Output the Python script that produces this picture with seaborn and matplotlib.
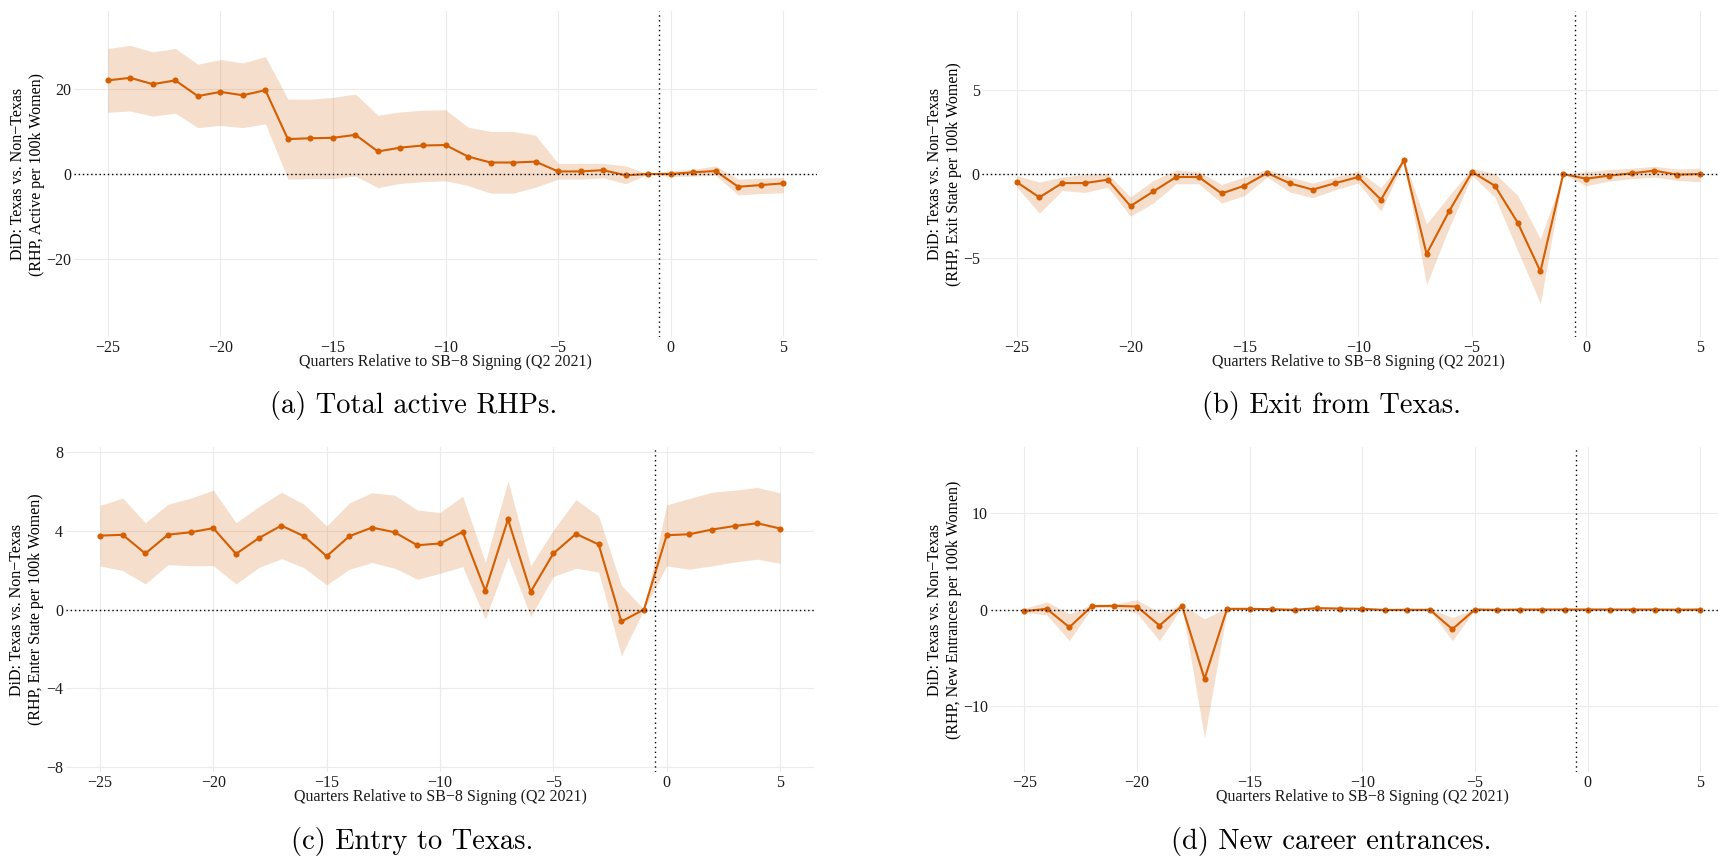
import matplotlib
matplotlib.use("Agg")
import matplotlib.pyplot as plt
import pandas as pd
import seaborn as sns

# ---------------- data ----------------
quarters = list(range(-25, 6))
xticks = [-25, -20, -15, -10, -5, 0, 5]

active_est = [22.0, 22.6, 21.1, 22.0, 18.3, 19.3, 18.5, 19.7, 8.2, 8.4, 8.5, 9.2, 5.3, 6.2, 6.7, 6.8,
              4.1, 2.7, 2.7, 2.9, 0.6, 0.6, 0.9, -0.3, 0.0, 0.0, 0.4, 0.7, -3.0, -2.6, -2.2]
active_hi = [29.5, 30.2, 28.7, 29.5, 25.8, 26.9, 26.1, 27.6, 17.6, 17.6, 18.0, 18.8, 13.8, 14.6, 15.0, 15.1,
             11.0, 10.0, 10.0, 9.1, 2.5, 2.5, 2.5, 1.9, 0.0, 0.8, 1.1, 1.9, -1.2, -1.0, -0.8]
active_lo = [14.5, 14.8, 13.6, 14.3, 10.9, 11.4, 10.9, 11.8, -1.2, -1.1, -1.1, -0.5, -3.2, -2.2, -1.8, -1.6,
             -2.7, -4.5, -4.5, -3.1, -1.2, -1.2, -0.9, -2.3, 0.0, -0.6, -0.5, -0.3, -4.9, -4.6, -4.4]

exit_est = [-0.48, -1.39, -0.54, -0.54, -0.34, -1.91, -1.04, -0.18, -0.18, -1.16, -0.70, 0.06, -0.56, -0.93,
            -0.54, -0.18, -1.53, 0.82, -4.76, -2.19, 0.12, -0.70, -2.89, -5.80, 0.0, -0.28, -0.10, 0.04,
            0.20, -0.04, 0.0]
exit_hi = [-0.10, -0.48, -0.18, -0.02, 0.02, -1.37, -0.38, 0.22, 0.14, -0.62, -0.18, 0.28, -0.18, -0.54,
           -0.18, 0.18, -0.82, 0.90, -2.97, -1.27, 0.34, 0.02, -1.27, -3.86, 0.0, 0.14, 0.26, 0.34, 0.46,
           0.30, 0.34]
exit_lo = [-0.78, -2.33, -0.98, -1.10, -0.78, -2.51, -1.73, -0.58, -0.58, -1.73, -1.29, -0.18, -1.08, -1.41,
           -0.94, -0.54, -2.21, 0.74, -6.59, -3.17, -0.10, -1.37, -4.56, -7.71, 0.0, -0.70, -0.42, -0.28,
           -0.18, -0.38, -0.46]

entry_est = [3.76, 3.80, 2.85, 3.81, 3.93, 4.14, 2.83, 3.63, 4.27, 3.73, 2.71, 3.73, 4.17, 3.93, 3.27, 3.36,
             3.95, 0.95, 4.59, 0.90, 2.85, 3.85, 3.31, -0.61, 0.0, 3.78, 3.83, 4.07, 4.25, 4.39, 4.12]
entry_hi = [5.30, 5.67, 4.42, 5.36, 5.67, 6.07, 4.42, 5.23, 5.97, 5.36, 4.25, 5.43, 5.94, 5.82, 5.06, 4.94,
            5.77, 2.42, 6.55, 2.22, 4.04, 5.60, 4.75, 1.24, 0.0, 5.33, 5.65, 5.97, 6.07, 6.21, 5.94]
entry_lo = [2.22, 1.98, 1.30, 2.28, 2.23, 2.23, 1.30, 2.13, 2.59, 2.13, 1.25, 2.05, 2.39, 2.10, 1.54, 1.84,
            2.18, -0.49, 2.66, -0.36, 1.68, 2.10, 1.90, -2.35, 0.0, 2.22, 2.05, 2.22, 2.42, 2.56, 2.35]

new_est = [-0.17, 0.07, -1.85, 0.35, 0.38, 0.31, -1.67, 0.38, -7.21, 0.07, 0.07, 0.03, -0.03, 0.14, 0.10,
           0.07, -0.05, -0.03, -0.03, -2.05, 0.0, -0.03, 0.0, 0.0, 0.0, 0.0, 0.0, 0.0, 0.0, -0.02, 0.0]
new_hi = [0.10, 0.80, -0.45, 0.52, 0.56, 1.01, -0.31, 0.50, -0.98, 0.20, 0.15, 0.12, 0.06, 0.25, 0.20, 0.15,
          0.05, 0.05, 0.05, -0.83, 0.05, 0.05, 0.05, 0.05, 0.0, 0.08, 0.08, 0.08, 0.08, 0.08, 0.08]
new_lo = [-0.31, -0.56, -3.24, 0.17, 0.20, -0.38, -3.24, 0.26, -13.34, -0.05, -0.02, -0.06, -0.12, 0.03,
          0.0, -0.02, -0.15, -0.12, -0.12, -3.23, -0.05, -0.10, -0.05, -0.05, 0.0, -0.08, -0.08, -0.08,
          -0.08, -0.10, -0.08]

ylabels = [
    "DiD: Texas vs. Non\u2212Texas\n(RHP, Active per 100k Women)",
    "DiD: Texas vs. Non\u2212Texas\n(RHP, Exit State per 100k Women)",
    "DiD: Texas vs. Non\u2212Texas\n(RHP, Enter State per 100k Women)",
    "DiD: Texas vs. Non\u2212Texas\n(RHP, New Entrances per 100k Women)",
]
xlabel = "Quarters Relative to SB\u22128 Signing (Q2 2021)"
captions = ["(a) Total active RHPs.", "(b) Exit from Texas.",
            "(c) Entry to Texas.", "(d) New career entrances."]
yticks_list = [[-20, 0, 20], [-5, 0, 5], [-8, -4, 0, 4, 8], [-10, 0, 10]]

series = [(active_est, active_lo, active_hi), (exit_est, exit_lo, exit_hi),
          (entry_est, entry_lo, entry_hi), (new_est, new_lo, new_hi)]

# ---------------- layout (pixels) ----------------
W, H = 1718, 856
boxes = [(74, 11, 817, 337), (982.5, 11, 1734, 337), (66, 447, 814, 772), (990.5, 447, 1734, 772)]
ylims = [38.3, 9.7, 8.27, 16.9]
ylab_x = [28, 944, 27, 945]
cap_x = [414, 1332, 412, 1331]
cap_y = [406, 406, 841, 841]
xlab_y = [362, 362, 797, 797]

ORANGE = "#D55E00"

sns.set_theme(style="white")
plt.rcParams["font.family"] = ["Liberation Serif", "DejaVu Serif"]
plt.rcParams["axes.unicode_minus"] = True

fig = plt.figure(figsize=(W / 100, H / 100), dpi=100)
fig.patch.set_facecolor("white")

for i, (est, lo, hi) in enumerate(series):
    l, t, r, b = boxes[i]
    ax = fig.add_axes([l / W, 1 - b / H, (r - l) / W, (b - t) / H])
    ax.set_facecolor("white")
    ax.fill_between(quarters, lo, hi, color=ORANGE, alpha=0.2, linewidth=0, zorder=1)
    df = pd.DataFrame({"q": quarters, "est": est})
    sns.lineplot(data=df, x="q", y="est", ax=ax, color=ORANGE, linewidth=1.5,
                 marker="o", markersize=4.4, markeredgewidth=0, zorder=3)
    ax.axhline(0, color="black", linewidth=1.0, linestyle=(0, (1, 2)), zorder=4)
    ax.axvline(-0.5, color="black", linewidth=1.0, linestyle=(0, (1, 2.5)), zorder=4)
    ax.set_xlim(-26.5, 6.5)
    ax.set_ylim(-ylims[i], ylims[i])
    ax.set_xticks(xticks)
    ax.set_yticks(yticks_list[i])
    ax.grid(True, color="#EBEBEB", linewidth=0.8)
    ax.set_axisbelow(True)
    for s in ax.spines.values():
        s.set_visible(False)
    ax.tick_params(length=0, pad=2, labelsize=11.5, colors="#1a1a1a")
    ax.set_xlabel("")
    ax.set_ylabel("")

    xc = (l + r) / 2
    fig.text(xc / W, 1 - xlab_y[i] / H, xlabel, ha="center", va="center",
             fontsize=11.5, color="#1a1a1a")
    fig.text(ylab_x[i] / W, 1 - ((t + b) / 2) / H, ylabels[i], rotation=90,
             ha="center", va="center", multialignment="center", fontsize=11.5,
             linespacing=1.25, color="black")
    fig.text(cap_x[i] / W, 1 - cap_y[i] / H, captions[i], ha="center", va="center",
             fontsize=20.5, family="cmr10", color="black")

fig.savefig("out.png", dpi=100)
